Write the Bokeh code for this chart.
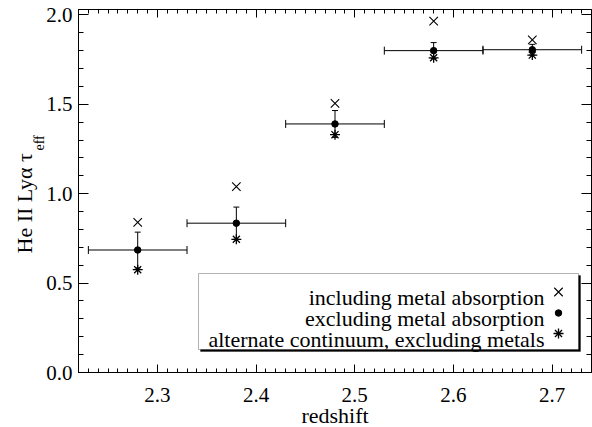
import math
from bokeh.plotting import figure
from bokeh.models import (LinearAxis, SingleIntervalTicker, PrintfTickFormatter, Range1d,
                          Whisker, TeeHead, ColumnDataSource, BoxAnnotation, Label, Title)
from bokeh.embed import file_html
from bokeh.resources import INLINE

# ---- data ----
redshift = [2.28, 2.38, 2.48, 2.58, 2.68]
bin_halfwidth = [0.05, 0.05, 0.05, 0.05, 0.05]
tau_incl_metals = [0.84, 1.04, 1.505, 1.965, 1.86]
tau_excl_metals = [0.685, 0.835, 1.39, 1.80, 1.805]
tau_excl_err = [0.10, 0.09, 0.075, 0.045, 0.03]
tau_alt_cont = [0.575, 0.745, 1.33, 1.76, 1.775]
legend_labels = ["including metal absorption", "excluding metal absorption",
                 "alternate continuum, excluding metals"]
x_label = "redshift"
y_label_main = "He II Ly\u03b1 \u03c4"
y_label_sub = "eff"

# ---- layout ----
W, H = 592, 427
L, R, T, B = 78, 1, 9, 55
FW, FH = W - L - R, H - T - B
XR = (2.22, 2.74)
YR = (0.0, 2.03)
FONT = "Liberation Serif"

def dx(px):
    return XR[0] + (px - L) / FW * (XR[1] - XR[0])

def dy(py):
    return YR[0] + (T + FH - py) / FH * (YR[1] - YR[0])

p = figure(width=W, height=H, output_backend="svg", toolbar_location=None,
           x_range=Range1d(*XR), y_range=Range1d(*YR),
           min_border_left=L, min_border_right=R, min_border_top=T, min_border_bottom=B,
           x_axis_type=None, y_axis_type=None)
p.grid.visible = False
p.outline_line_color = "black"
p.background_fill_color = "white"
p.border_fill_color = "white"

xt = SingleIntervalTicker(interval=0.1, num_minor_ticks=10)
yt = SingleIntervalTicker(interval=0.5, num_minor_ticks=5)
fmt = PrintfTickFormatter(format="%.1f")
blank = PrintfTickFormatter(format="")

def style(ax, major, minor, show_labels, standoff):
    ax.major_tick_in = major
    ax.major_tick_out = 0
    ax.minor_tick_in = minor
    ax.minor_tick_out = 0
    ax.axis_line_color = "black"
    ax.major_tick_line_color = "black"
    ax.minor_tick_line_color = "black"
    ax.major_label_text_font = FONT
    ax.major_label_text_color = "black"
    ax.major_label_standoff = standoff
    if show_labels:
        ax.major_label_text_font_size = "21px"
    else:
        ax.major_label_text_font_size = "0px"
        ax.major_label_standoff = 0

xb = LinearAxis(ticker=xt, formatter=fmt)
style(xb, 8, 4, True, 15)
p.add_layout(xb, "below")
xa = LinearAxis(ticker=xt, formatter=blank)
style(xa, 8, 4, False, 0)
p.add_layout(xa, "above")
yl = LinearAxis(ticker=yt, formatter=fmt)
style(yl, 10, 5, True, 6)
p.add_layout(yl, "left")
yr = LinearAxis(ticker=yt, formatter=blank)
style(yr, 10, 5, False, 0)
p.add_layout(yr, "right")

# x axis title as a side-panel title
t_x = Title(text=x_label, align="center", vertical_align="top",
            text_font=FONT, text_font_size="22px", text_font_style="normal",
            text_color="black", standoff=0)
try:
    t_x.padding = dict(left=0, right=0, top=8, bottom=0)
    t_x.standoff = -20
except Exception:
    t_x.standoff = -12
p.add_layout(t_x, "below")

# y axis title: main text plus subscript, as side-panel titles
t_sub = Title(text=y_label_sub, align="left", offset=222, vertical_align="top",
              text_font=FONT, text_font_size="14px", text_font_style="normal",
              text_color="black", standoff=0)
try:
    t_sub.standoff = -10
except Exception:
    t_sub.standoff = 0
p.add_layout(t_sub, "left")
t_main = Title(text=y_label_main, align="left", offset=119, vertical_align="bottom",
               text_font=FONT, text_font_size="22px", text_font_style="normal",
               text_color="black", standoff=0)
p.add_layout(t_main, "left")

src = ColumnDataSource(dict(
    z=redshift,
    zlo=[z - h for z, h in zip(redshift, bin_halfwidth)],
    zhi=[z + h for z, h in zip(redshift, bin_halfwidth)],
    incl=tau_incl_metals,
    excl=tau_excl_metals,
    elo=[v - e for v, e in zip(tau_excl_metals, tau_excl_err)],
    ehi=[v + e for v, e in zip(tau_excl_metals, tau_excl_err)],
    alt=tau_alt_cont,
))

hw = Whisker(source=src, base="excl", lower="zlo", upper="zhi", dimension="width",
             line_color="black", line_width=1,
             lower_head=TeeHead(size=8, line_color="black", line_width=1),
             upper_head=TeeHead(size=8, line_color="black", line_width=1))
vw = Whisker(source=src, base="z", lower="elo", upper="ehi", dimension="height",
             line_color="black", line_width=1,
             lower_head=TeeHead(size=6, line_color="black", line_width=1),
             upper_head=TeeHead(size=6, line_color="black", line_width=1))
p.add_layout(hw)
p.add_layout(vw)

MS_X, MS_C, MS_A = 12, 6.5, 10
p.scatter("z", "incl", source=src, marker="x", size=MS_X, line_color="black", line_width=1.1)
p.scatter("z", "excl", source=src, marker="circle", size=MS_C, line_color="black", fill_color="black")
p.scatter("z", "alt", source=src, marker="asterisk", size=MS_A, line_color="black", line_width=1.3)

# ---- legend box ----
bx0, bx1, by0, by1 = 198, 578, 273, 349
p.add_layout(BoxAnnotation(left=dx(bx0 + 2), right=dx(bx1 + 2), top=dy(by0 + 2), bottom=dy(by1 + 2),
                           fill_color="black", fill_alpha=1, line_color="black", line_width=1,
                           level="underlay"))
p.add_layout(BoxAnnotation(left=dx(bx0), right=dx(bx1), top=dy(by0), bottom=dy(by1),
                           fill_color="white", fill_alpha=1, line_color="black", line_width=1,
                           level="underlay"))
text_right = 544
marker_x = 558
baselines = [297, 318, 338.5]
marker_ys = [291.5, 312.5, 333]
for lab, by in zip(legend_labels, baselines):
    p.add_layout(Label(x=dx(text_right), y=dy(by), text=lab, text_align="right",
                       text_baseline="alphabetic", text_font=FONT, text_font_size="22px",
                       text_color="black", level="overlay"))
p.scatter(x=[dx(marker_x)], y=[dy(marker_ys[0])], marker="x", size=MS_X, line_color="black",
          line_width=1.1)
p.scatter(x=[dx(marker_x)], y=[dy(marker_ys[1])], marker="circle", size=MS_C, line_color="black",
          fill_color="black")
p.scatter(x=[dx(marker_x)], y=[dy(marker_ys[2])], marker="asterisk", size=MS_A, line_color="black",
          line_width=1.3)

open("out.html", "w").write(file_html(p, INLINE))
